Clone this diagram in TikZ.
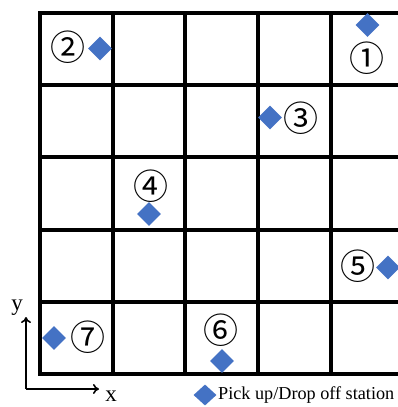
\documentclass[tikz,border=0pt]{standalone}
\usepackage{fontspec}
\setmainfont{Liberation Serif}
\newfontfamily\cjk{Noto Sans CJK JP}
\usetikzlibrary{shapes.geometric,arrows.meta}
\definecolor{stblue}{HTML}{4472C4}
\tikzset{
  gridline/.style={line width=4pt,line cap=rect},
  station/.style={shape=diamond,fill=stblue,draw=none,inner sep=0pt,minimum width=24pt,minimum height=24pt},
  legendmark/.style={shape=diamond,fill=stblue,draw=none,inner sep=0pt,minimum width=23pt,minimum height=21pt},
  numlabel/.style={font=\cjk\fontsize{35}{35}\selectfont,inner sep=0pt},
  axislabel/.style={font=\fontsize{23}{23}\selectfont,inner sep=0pt},
  axisline/.style={line width=1.8pt,-{To[length=6pt,width=10pt,line width=1.6pt]}}
}
\begin{document}
\begin{tikzpicture}[x=1pt,y=-1pt]
\useasboundingbox (0,0) rectangle (398,407);
\begin{scope}
\clip (0,0) rectangle (398,407);
% grid
\foreach \gx in {40,112.5,185,257.5,330.5}
  \draw[gridline] (\gx,13) -- (\gx,374);
\foreach \gy in {13,85,157,229.5,302,374}
  \draw[gridline] (40,\gy) -- (410,\gy);
\end{scope}
% stations
\node[station] (s1) at (367.5,25) {};
\node[numlabel] (n1) at (367,58) {①};
\node[station] (s2) at (100,48.5) {};
\node[numlabel] (n2) at (68,47) {②};
\node[station] (s3) at (270,117.5) {};
\node[numlabel] (n3) at (301,118) {③};
\node[station] (s4) at (149,214) {};
\node[numlabel] (n4) at (151,186) {④};
\node[station] (s5) at (388,267.5) {};
\node[numlabel] (n5) at (358,266) {⑤};
\node[station] (s6) at (222,361) {};
\node[numlabel] (n6) at (221,330) {⑥};
\node[station] (s7) at (54,338) {};
\node[numlabel] (n7) at (88,337) {⑦};
% axes
\coordinate (o) at (26,389);
\coordinate (ytip) at (26,317);
\coordinate (xtip) at (99,389);
\draw[axisline] (o) -- (ytip);
\draw[axisline] (o) -- (xtip);
\node[axislabel] (ylab) at (17,308) {y};
\node[axislabel] (xlab) at (111,396) {x};
% legend
\node[legendmark] (lm) at (205,395) {};
\node[anchor=west,inner sep=0pt,font=\fontsize{18.2}{18.2}\selectfont] (lt) at (218,395) {Pick up/Drop off station};
\end{tikzpicture}
\end{document}
